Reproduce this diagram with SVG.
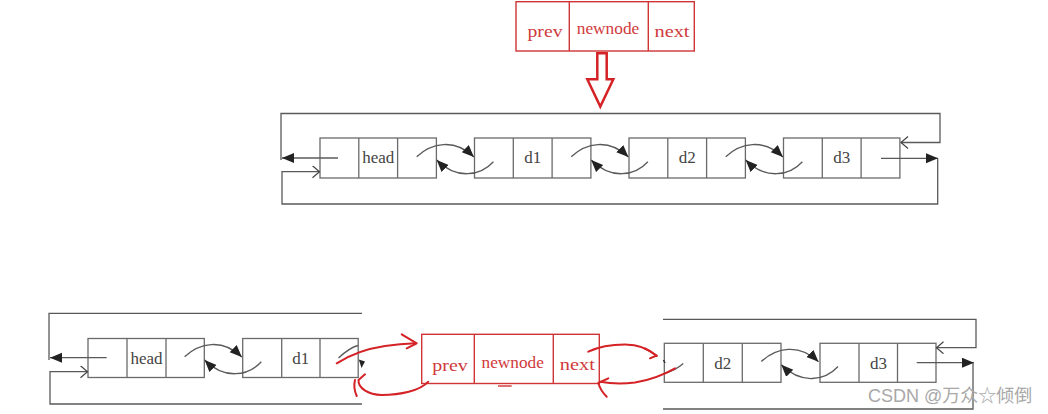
<svg xmlns="http://www.w3.org/2000/svg" width="1048" height="414" viewBox="0 0 1048 414">
<style>
.cell{fill:#fff;stroke:#6a6a6a;stroke-width:1.3}
.div{stroke:#6a6a6a;stroke-width:1.3}
.lbl{font-family:"Liberation Serif",serif;font-size:17px;fill:#444;text-anchor:middle}
.rbox{fill:#fff;stroke:#cf3436;stroke-width:1.4}
.rdiv{stroke:#cf3436;stroke-width:1.4}
.rlbl{font-family:"Liberation Serif",serif;font-size:16px;fill:#d03a3c;text-anchor:middle}
.ln{fill:none;stroke:#5a5a5a;stroke-width:1.3}
.arc{fill:none;stroke:#5a5a5a;stroke-width:1.3}
.red{fill:none;stroke:#d42226;stroke-width:2;stroke-linecap:round;stroke-linejoin:round}
.wm{font-family:"Liberation Sans","Noto Sans CJK SC",sans-serif;font-size:18px;fill:#a8a8a8}
</style>
<defs>
<marker id="fa" markerUnits="userSpaceOnUse" markerWidth="14" markerHeight="12" refX="12" refY="5" orient="auto"><path d="M0,0 L12,5 L0,10 z" fill="#222"/></marker>
<marker id="oa" markerUnits="userSpaceOnUse" markerWidth="10" markerHeight="14" refX="7.5" refY="6" orient="auto"><path d="M0.5,0 L7.5,6 L0.5,12" fill="none" stroke="#444" stroke-width="1.2"/></marker>
</defs>
<rect width="1048" height="414" fill="#fff"/>

<!-- top new node -->
<g id="newnode-top">
<rect class="rbox" x="516" y="1.7" width="178.3" height="49.3"/>
<line class="rdiv" x1="569.3" y1="1.7" x2="569.3" y2="51"/>
<line class="rdiv" x1="648.3" y1="1.7" x2="648.3" y2="51"/>
<text class="rlbl" x="545" y="37.3" textLength="35" lengthAdjust="spacingAndGlyphs">prev</text>
<text class="rlbl" x="608" y="34.3" textLength="62.5" lengthAdjust="spacingAndGlyphs">newnode</text>
<text class="rlbl" x="672" y="37.3" textLength="35" lengthAdjust="spacingAndGlyphs">next</text>
</g>
<g id="down-arrow">
<polygon points="597.3,53.3 606.7,53.3 606.7,79.3 613.3,79.3 600.3,106.5 587.3,79.3 597.3,79.3" fill="#fff" stroke="#d42226" stroke-width="2.5" stroke-linejoin="miter"/>
</g>

<!-- top list nodes -->
<g id="t-head" transform="translate(320,138)"><rect class="cell" width="116.4" height="40"/><line class="div" x1="38.8" y1="0" x2="38.8" y2="40"/><line class="div" x1="77.6" y1="0" x2="77.6" y2="40"/><text class="lbl" x="58.2" y="25.3">head</text></g>
<g id="t-d1" transform="translate(474.5,138)"><rect class="cell" width="116.4" height="40"/><line class="div" x1="38.8" y1="0" x2="38.8" y2="40"/><line class="div" x1="77.6" y1="0" x2="77.6" y2="40"/><text class="lbl" x="58.2" y="25.3">d1</text></g>
<g id="t-d2" transform="translate(629,138)"><rect class="cell" width="116.4" height="40"/><line class="div" x1="38.8" y1="0" x2="38.8" y2="40"/><line class="div" x1="77.6" y1="0" x2="77.6" y2="40"/><text class="lbl" x="58.2" y="25.3">d2</text></g>
<g id="t-d3" transform="translate(783.5,138)"><rect class="cell" width="116.4" height="40"/><line class="div" x1="38.8" y1="0" x2="38.8" y2="40"/><line class="div" x1="77.6" y1="0" x2="77.6" y2="40"/><text class="lbl" x="58.2" y="25.3">d3</text></g>

<!-- bottom list nodes -->
<g id="b-head" transform="translate(88,338.5)"><rect class="cell" width="116.3" height="39"/><line class="div" x1="39" y1="0" x2="39" y2="39"/><line class="div" x1="78" y1="0" x2="78" y2="39"/><text class="lbl" x="58.5" y="25.5">head</text></g>
<g id="b-d1" transform="translate(242.7,338.5)"><rect class="cell" width="115.5" height="39"/><line class="div" x1="39" y1="0" x2="39" y2="39"/><line class="div" x1="77.3" y1="0" x2="77.3" y2="39"/><text class="lbl" x="58" y="25.5">d1</text></g>
<g id="b-d2" transform="translate(664.3,343.3)"><rect class="cell" width="116.7" height="39"/><line class="div" x1="39" y1="0" x2="39" y2="39"/><line class="div" x1="78" y1="0" x2="78" y2="39"/><text class="lbl" x="58.5" y="25.5">d2</text></g>
<g id="b-d3" transform="translate(820,343.3)"><rect class="cell" width="116" height="39"/><line class="div" x1="39" y1="0" x2="39" y2="39"/><line class="div" x1="77.5" y1="0" x2="77.5" y2="39"/><text class="lbl" x="58.5" y="25.5">d3</text></g>

<!-- bottom new node -->
<g id="newnode-bottom">
<rect class="rbox" x="421.7" y="334.3" width="177.6" height="49.2"/>
<line class="rdiv" x1="474.3" y1="334.3" x2="474.3" y2="383.5"/>
<line class="rdiv" x1="553.3" y1="334.3" x2="553.3" y2="383.5"/>
<text class="rlbl" x="450" y="370.7" textLength="35.5" lengthAdjust="spacingAndGlyphs">prev</text>
<text class="rlbl" x="512.7" y="367.7" textLength="62.3" lengthAdjust="spacingAndGlyphs">newnode</text>
<text class="rlbl" x="577.3" y="370" textLength="35" lengthAdjust="spacingAndGlyphs">next</text>
<line class="rdiv" x1="498" y1="386" x2="511.7" y2="386"/>
</g>

<g id="connectors">
<!-- top loop -->
<path class="ln" d="M281,160 V113.5 H940 V142.5 H901" marker-end="url(#oa)"/>
<path class="ln" d="M338,158 H282" marker-end="url(#fa)"/>
<path class="ln" d="M937.7,158.3 V204 H282 V171.7 H319.5" marker-end="url(#oa)"/>
<path class="ln" d="M881,158.3 H938" marker-end="url(#fa)"/>
<!-- top arcs -->
<path class="arc" d="M416.7,156.7 C431.4,143 454.4,138 473.9,157" marker-end="url(#fa)"/>
<path class="arc" d="M493.4,161.7 C480.4,176 456.4,180 436.7,160" marker-end="url(#fa)"/>
<path class="arc" d="M571.2,156.7 C585.9,143 608.9,138 628.4,157" marker-end="url(#fa)"/>
<path class="arc" d="M647.9,161.7 C634.9,176 610.9,180 591.2,160" marker-end="url(#fa)"/>
<path class="arc" d="M725.7,156.7 C740.4,143 763.4,138 782.9,157" marker-end="url(#fa)"/>
<path class="arc" d="M802.4,161.7 C789.4,176 765.4,180 745.7,160" marker-end="url(#fa)"/>

<!-- bottom left loop -->
<path class="ln" d="M49,360 V313.3 H362"/>
<path class="ln" d="M106.7,357.7 H50" marker-end="url(#fa)"/>
<path class="ln" d="M362,404 H50 V371.7 H87.5" marker-end="url(#oa)"/>
<path class="arc" d="M184.6,356.7 C199.3,343 222.3,338 241.8,357" marker-end="url(#fa)"/>
<path class="arc" d="M261.3,361.7 C248.3,376 224.3,380 204.6,360" marker-end="url(#fa)"/>
<path class="arc" d="M338.5,358 C346,351 352,347 358,345.5"/>
<polygon points="358.8,359.5 365,361.5 361.5,368" fill="#222"/>

<!-- bottom right loop -->
<path class="ln" d="M663,319.3 H976 V347.7 H936.5" marker-end="url(#oa)"/>
<path class="ln" d="M916.7,362.7 H974" marker-end="url(#fa)"/>
<path class="ln" d="M973,362.7 V409 H663"/>
<path class="arc" d="M761.3,361.5 C776,347.8 799,342.8 818.5,361.8" marker-end="url(#fa)"/>
<path class="arc" d="M838,366.5 C825,380.8 801,384.8 781.3,364.8" marker-end="url(#fa)"/>
<path class="arc" d="M683.3,363.5 C677,369 670,372 664.3,373.5"/>
<line x1="663.5" y1="360" x2="665" y2="363" stroke="#333" stroke-width="1.5"/>

<!-- red hand-drawn arrows -->
<path class="red" d="M336.7,363.3 C348,356 365,349 385,346 C398,344 408,343.5 415.5,343.3"/>
<path class="red" d="M401.7,334.3 L416.7,343.3 L406.7,348.3"/>
<path class="red" d="M428.3,381.7 C420,391 400,395 381.7,395 C368,394.5 358,388 358.5,380 L365,374.3"/>
<path class="red" d="M355,380 C353.5,386 354.5,391 356.7,396"/>
<path class="red" d="M588.3,351.7 C598,347 610,344.5 625,344.5 C638,344.5 648,348 656.7,356"/>
<path class="red" d="M645,348.3 L656.7,355.5 L650,358.3"/>
<path class="red" d="M675,368.3 C665,374 650,380 635,382.5 C622,384 610,383.5 600,381.7"/>
<path class="red" d="M608.3,378.3 L598.3,383 C600,389 603,393 606.7,396.7"/>
</g>

<text class="wm" x="868" y="401.5">CSDN @万众☆倾倒</text>
</svg>
